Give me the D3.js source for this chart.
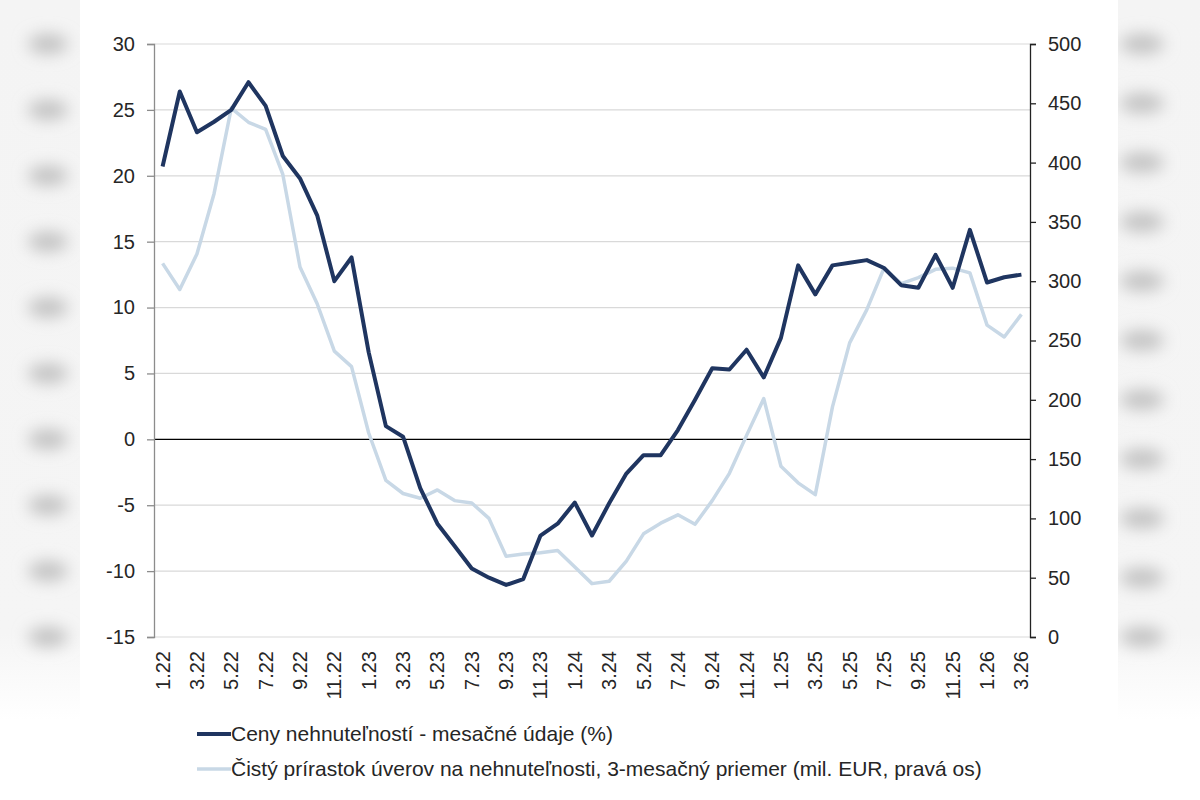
<!DOCTYPE html>
<html>
<head>
<meta charset="utf-8">
<script src="https://cdn.jsdelivr.net/npm/d3@7"></script>
<style>
  body { margin: 0; background: #ffffff; }
  svg { display: block; font-family: "Liberation Sans", Arial, sans-serif; }
</style>
</head>
<body>
<svg id="chart" width="1200" height="800"></svg>
<script>
var months = ["1.22","2.22","3.22","4.22","5.22","6.22","7.22","8.22","9.22","10.22","11.22","12.22",
  "1.23","2.23","3.23","4.23","5.23","6.23","7.23","8.23","9.23","10.23","11.23","12.23",
  "1.24","2.24","3.24","4.24","5.24","6.24","7.24","8.24","9.24","10.24","11.24","12.24",
  "1.25","2.25","3.25","4.25","5.25","6.25","7.25","8.25","9.25","10.25","11.25","12.25",
  "1.26","2.26","3.26"];

var x_labels = ["1.22","3.22","5.22","7.22","9.22","11.22","1.23","3.23","5.23","7.23","9.23","11.23",
  "1.24","3.24","5.24","7.24","9.24","11.24","1.25","3.25","5.25","7.25","9.25","11.25","1.26","3.26"];

// house prices, % (left axis)
var prices = [20.7, 26.4, 23.3, 24.1, 25.0, 27.1, 25.3, 21.5, 19.8, 17.0, 12.0, 13.8,
  6.6, 1.0, 0.2, -3.7, -6.4, -8.1, -9.8, -10.5, -11.05, -10.6, -7.3, -6.4,
  -4.8, -7.3, -4.85, -2.6, -1.2, -1.2, 0.7, 3.0, 5.4, 5.3, 6.8, 4.7,
  7.7, 13.2, 11.0, 13.2, 13.4, 13.6, 13.0, 11.7, 11.5, 14.0, 11.5, 15.9,
  11.9, 12.3, 12.5];

// net mortgage growth, 3m average, mil. EUR (right axis)
var loans = [315, 293, 323, 374, 446, 434, 428, 390, 312, 281, 241, 228,
  172, 132, 121, 117, 124, 115, 113, 100, 68, 70, 71, 73,
  59, 45, 47, 64, 87, 96, 103, 95, 115, 138, 170, 201,
  144, 130, 120, 194, 248, 276, 311, 298, 303, 310, 311, 307,
  263, 253, 272];

var left_ticks = [-15, -10, -5, 0, 5, 10, 15, 20, 25, 30];
var right_ticks = [0, 50, 100, 150, 200, 250, 300, 350, 400, 450, 500];

var legend_names = ["Ceny nehnuteľností - mesačné údaje (%)",
  "Čistý prírastok úverov na nehnuteľnosti, 3-mesačný priemer (mil. EUR, pravá os)"];

var dark_col = "#1f3560";
var light_col = "#c8d8e6";

window.addEventListener('load', function ()
{
  draw_chart();
});

function draw_chart()
{
  let svg = d3.select("#chart");
  let left = 154, right = 1030, top = 44, bottom = 637;

  let x = d3.scalePoint().domain(months).range([left, right]).padding(0.5);
  let y_left = d3.scaleLinear().domain([-15, 30]).range([bottom, top]);
  let y_right = d3.scaleLinear().domain([0, 500]).range([bottom, top]);

  // blurred page behind the chart
  let defs = svg.append("defs");
  defs.append("filter").attr("id", "blur").attr("x", "-100%").attr("y", "-100%")
    .attr("width", "300%").attr("height", "300%")
    .append("feGaussianBlur").attr("stdDeviation", 8);
  let fade = defs.append("linearGradient").attr("id", "fade")
    .attr("x1", 0).attr("x2", 0).attr("y1", 0).attr("y2", 1);
  fade.append("stop").attr("offset", "0%").attr("stop-color", "#f4f4f4");
  fade.append("stop").attr("offset", "88%").attr("stop-color", "#f5f5f5");
  fade.append("stop").attr("offset", "100%").attr("stop-color", "#ffffff");

  let bg = svg.append("g");
  bg.append("rect").attr("x", 0).attr("y", 0).attr("width", 80).attr("height", 720).attr("fill", "url(#fade)");
  bg.append("rect").attr("x", 1118).attr("y", 0).attr("width", 82).attr("height", 720).attr("fill", "url(#fade)");
  bg.selectAll(".blob-left").data(left_ticks).enter().append("ellipse")
    .attr("cx", 48).attr("cy", function(d){return y_left(d);})
    .attr("rx", 20).attr("ry", 10).attr("fill", "#c2c2c2").attr("filter", "url(#blur)");
  bg.selectAll(".blob-right").data(right_ticks).enter().append("ellipse")
    .attr("cx", 1142).attr("cy", function(d){return y_right(d);})
    .attr("rx", 22).attr("ry", 10).attr("fill", "#c2c2c2").attr("filter", "url(#blur)");
  svg.append("rect").attr("x", 80).attr("y", 0).attr("width", 1038).attr("height", 800).attr("fill", "#ffffff");

  // gridlines
  svg.append("g").selectAll("line").data(left_ticks).enter().append("line")
    .attr("x1", left).attr("x2", right)
    .attr("y1", function(d){return y_left(d);}).attr("y2", function(d){return y_left(d);})
    .attr("stroke", function(d){return d == 0 ? "#000000" : "#d9d9d9";})
    .attr("stroke-width", function(d){return d == 0 ? 1.4 : 1.2;});

  // left axis
  let ax_left = svg.append("g").attr("transform", "translate(" + left + ",0)")
    .call(d3.axisLeft(y_left).tickValues(left_ticks).tickSize(7).tickPadding(12).tickFormat(d3.format("d")));
  ax_left.select(".domain").attr("stroke", "#8c8c8c").attr("stroke-width", 1.3);
  ax_left.selectAll(".tick line").attr("stroke", "#8c8c8c").attr("stroke-width", 1.3);
  ax_left.selectAll("text").attr("font-size", 20).attr("fill", "#262626")
    .attr("font-family", "Liberation Sans, Arial, sans-serif")
    .text(function(d){return d < 0 ? "-" + Math.abs(d) : d;});

  // right axis
  let ax_right = svg.append("g").attr("transform", "translate(" + right + ",0)")
    .call(d3.axisRight(y_right).tickValues(right_ticks).tickSize(6).tickPadding(12));
  ax_right.select(".domain").attr("stroke", "#222222").attr("stroke-width", 1.3);
  ax_right.selectAll(".tick line").attr("stroke", "#222222").attr("stroke-width", 1.3);
  ax_right.selectAll("text").attr("font-size", 20).attr("fill", "#262626")
    .attr("font-family", "Liberation Sans, Arial, sans-serif");

  // x labels
  svg.append("g").selectAll("text").data(x_labels).enter().append("text")
    .attr("transform", function(d){return "translate(" + (x(d) + 7) + "," + 651 + ") rotate(-90)";})
    .attr("text-anchor", "end")
    .attr("font-size", 20).attr("fill", "#262626")
    .text(function(d){return d;});

  // lines
  let line_right = d3.line().x(function(d, i){return x(months[i]);}).y(function(d){return y_right(d);});
  let line_left = d3.line().x(function(d, i){return x(months[i]);}).y(function(d){return y_left(d);});

  svg.append("path").datum(loans).attr("d", line_right)
    .attr("fill", "none").attr("stroke", light_col).attr("stroke-width", 3.5)
    .attr("stroke-linejoin", "round");
  svg.append("path").datum(prices).attr("d", line_left)
    .attr("fill", "none").attr("stroke", dark_col).attr("stroke-width", 4)
    .attr("stroke-linejoin", "round");

  // legend
  let legend = svg.append("g").selectAll("g").data(legend_names).enter().append("g")
    .attr("transform", function(d, i){return "translate(197," + (734 + i * 35) + ")";});
  legend.append("line").attr("x1", 0).attr("x2", 34).attr("y1", 0).attr("y2", 0)
    .attr("stroke", function(d, i){return i == 0 ? dark_col : light_col;})
    .attr("stroke-width", function(d, i){return i == 0 ? 4 : 3.5;});
  legend.append("text").attr("x", 34).attr("y", 7)
    .attr("font-size", 21).attr("fill", "#262626")
    .text(function(d){return d;});
}
</script>
</body>
</html>
